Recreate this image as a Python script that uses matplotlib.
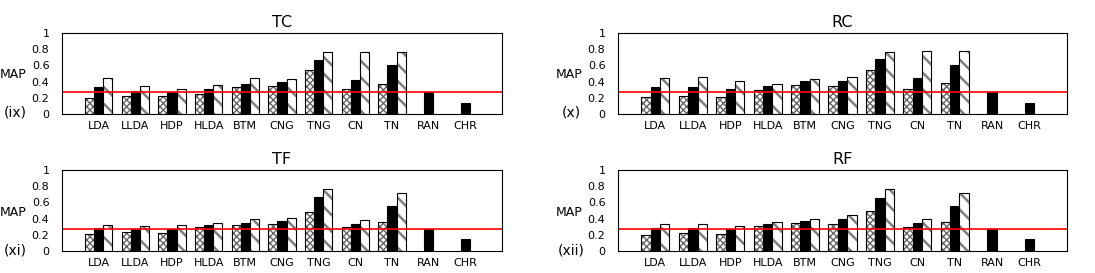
import numpy as np
import matplotlib
matplotlib.use("Agg")
import matplotlib.pyplot as plt

# Metodos y valores MAP
methods = ["LDA", "LLDA", "HDP", "HLDA", "BTM", "CNG", "TNG", "CN", "TN", "RAN", "CHR"]
panel_titles = ["TC", "RC", "TF", "RF"]
panel_tags = ["(ix)", "(x)", "(xi)", "(xii)"]

# tres series por metodo (las 9 primeras), RAN y CHR solo tienen una barra
tc_a = [0.20, 0.22, 0.22, 0.25, 0.33, 0.35, 0.54, 0.31, 0.37]
tc_b = [0.33, 0.29, 0.27, 0.31, 0.37, 0.40, 0.67, 0.42, 0.60]
tc_c = [0.44, 0.35, 0.31, 0.36, 0.44, 0.43, 0.76, 0.77, 0.77]

rc_a = [0.21, 0.22, 0.21, 0.30, 0.36, 0.35, 0.54, 0.31, 0.38]
rc_b = [0.33, 0.33, 0.31, 0.34, 0.41, 0.41, 0.68, 0.44, 0.60]
rc_c = [0.44, 0.46, 0.41, 0.37, 0.43, 0.46, 0.76, 0.78, 0.78]

tf_a = [0.21, 0.23, 0.22, 0.30, 0.32, 0.33, 0.48, 0.30, 0.36]
tf_b = [0.28, 0.27, 0.27, 0.32, 0.34, 0.37, 0.67, 0.33, 0.56]
tf_c = [0.32, 0.31, 0.32, 0.34, 0.39, 0.41, 0.77, 0.38, 0.71]

rf_a = [0.20, 0.22, 0.21, 0.31, 0.34, 0.33, 0.49, 0.30, 0.36]
rf_b = [0.28, 0.28, 0.27, 0.33, 0.37, 0.39, 0.66, 0.34, 0.56]
rf_c = [0.33, 0.33, 0.31, 0.36, 0.39, 0.44, 0.77, 0.39, 0.71]

ran_vals = [0.27, 0.27, 0.27, 0.27]
chr_vals = [0.14, 0.14, 0.15, 0.15]
baseline = [0.27, 0.27, 0.27, 0.27]

series = [(tc_a, tc_b, tc_c), (rc_a, rc_b, rc_c), (tf_a, tf_b, tf_c), (rf_a, rf_b, rf_c)]

W, H = 1095, 273
fig = plt.figure(figsize=(W / 100, H / 100), dpi=100)

# posiciones de los ejes en pixeles (izq, arriba, ancho)
boxes = [(62, 33, 440), (618, 33, 449), (62, 170, 440), (618, 170, 449)]
ax_h = 81

bw = 0.25

def hatched_bars(ax, x, h, hatch, hlw, hcol):
    with plt.rc_context({"hatch.linewidth": hlw, "hatch.color": hcol}):
        ax.bar(x, h, bw, color="white", edgecolor=hcol, hatch=hatch, linewidth=0)
    ax.bar(x, h, bw, fill=False, edgecolor="black", linewidth=0.8)

for i in range(4):
    left, top, width = boxes[i]
    ax = fig.add_axes([left / W, (H - top - ax_h) / H, width / W, ax_h / H])
    a, b, c = series[i]
    x = np.arange(9)
    hatched_bars(ax, x - bw, a, "xxxxx", 1.0, "#666666")
    ax.bar(x, b, bw, color="black", edgecolor="black", linewidth=0.8)
    hatched_bars(ax, x + bw, c, "\\\\", 1.8, "#7f7f7f")
    ax.bar([9, 10], [ran_vals[i], chr_vals[i]], bw, color="black", edgecolor="black", linewidth=0.8)
    ax.axhline(baseline[i], color="red", linewidth=1.2)

    ax.set_xlim(-1, 11)
    ax.set_ylim(0, 1)
    ax.set_xticks(np.arange(11))
    ax.set_xticklabels(methods, fontsize=8)
    ax.set_yticks([0, 0.2, 0.4, 0.6, 0.8, 1])
    ax.set_yticklabels(["0", "0.2", "0.4", "0.6", "0.8", "1"], fontsize=8)
    ax.tick_params(axis="both", length=0)
    ax.tick_params(axis="y", pad=9)
    ax.tick_params(axis="x", pad=5)
    for s in ax.spines.values():
        s.set_linewidth(0.8)
    ax.set_title(panel_titles[i], fontsize=11.5, pad=4)

    # etiquetas laterales
    fig.text((left - 62) / W, 1 - (top + 42) / H, "MAP", fontsize=9, ha="left", va="center")
    fig.text((left - 47) / W, 1 - (top + 80) / H, panel_tags[i], fontsize=10, ha="center", va="center")

fig.savefig("out.png", dpi=100)
